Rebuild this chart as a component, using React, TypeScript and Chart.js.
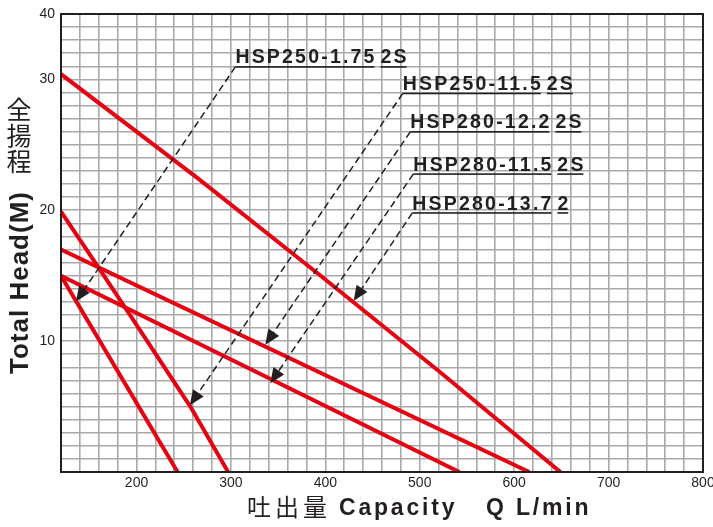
import React, { useEffect, useRef } from 'react';
import { Chart, registerables } from 'chart.js';

Chart.register(...registerables);

// ---- data (Q in L/min, H in m) ----
const seriesNames = ['HSP250-1.75 2S', 'HSP250-11.5 2S', 'HSP280-12.2 2S', 'HSP280-11.5 2S', 'HSP280-13.7 2'];

const flow1 = [120, 243.5];
const head1 = [15, 0];

const flow2 = [120, 160, 193, 257, 297];
const head2 = [19.9, 15.6, 12.0, 5.0, 0];

const flow3 = [120, 616];
const head3 = [17, 0];

const flow4 = [120, 542];
const head4 = [15, 0];

const flow5 = [120, 264, 395, 522, 649];
const head5 = [30.4, 22.5, 15.0, 7.6, 0];

const xTickValues = [200, 300, 400, 500, 600, 700, 800];
const yTickValues = [10, 20, 30, 35];
const yTickTexts = ['10', '20', '30', '40'];

// annotation labels: model text, suffix, label anchor (Q,H), arrow tip (Q,H)
const labelModels = ['HSP250-1.75', 'HSP250-11.5', 'HSP280-12.2', 'HSP280-11.5', 'HSP280-13.7'];
const labelSuffixes = ['2S', '2S', '2S', '2S', '2'];
const labelAnchorQ = [304.7, 482.0, 490.0, 493.2, 492.1];
const labelAnchorH = [30.96, 28.93, 26.0, 22.77, 19.8];
const arrowTipQ = [135.9, 256.5, 336.4, 341.7, 430];
const arrowTipH = [13.02, 5.1, 9.73, 6.79, 13.08];

const flows = [flow1, flow2, flow3, flow4, flow5];
const heads = [head1, head2, head3, head4, head5];

const INK = '#231f20';
const RED = '#e50012';
const LATIN = '"Liberation Sans", Arial, Helvetica, sans-serif';
const CJK = '"Noto Sans CJK JP", "Noto Sans CJK SC", sans-serif';

const overlayPlugin = {
  id: 'overlay',
  afterDatasetsDraw(chart: any) {
    const { ctx, chartArea: a, scales } = chart;
    const x = scales.x;
    const y = scales.y;
    ctx.save();
    // frame
    ctx.strokeStyle = INK;
    ctx.lineWidth = 2;
    ctx.strokeRect(a.left, a.top, a.right - a.left, a.bottom - a.top);

    // annotations
    ctx.fillStyle = INK;
    ctx.strokeStyle = INK;
    for (let i = 0; i < labelModels.length; i++) {
      const ax = x.getPixelForValue(labelAnchorQ[i]);
      const ay = y.getPixelForValue(labelAnchorH[i]);
      const tx = x.getPixelForValue(arrowTipQ[i]);
      const ty = y.getPixelForValue(arrowTipH[i]);
      const dx = tx - ax;
      const dy = ty - ay;
      const len = Math.hypot(dx, dy);
      const ux = dx / len;
      const uy = dy / len;
      const AL = 15;
      const AW = 6.5;
      const bx = tx - ux * AL;
      const by = ty - uy * AL;
      ctx.setLineDash([7, 4]);
      ctx.lineWidth = 1.5;
      ctx.beginPath();
      ctx.moveTo(ax, ay);
      ctx.lineTo(bx + ux * 2, by + uy * 2);
      ctx.stroke();
      ctx.setLineDash([]);
      ctx.beginPath();
      ctx.moveTo(tx, ty);
      ctx.lineTo(bx - uy * AW, by + ux * AW);
      ctx.lineTo(bx + uy * AW, by - ux * AW);
      ctx.closePath();
      ctx.fill();

      const ls = 2.2;
      ctx.font = `bold 19.5px ${LATIN}`;
      (ctx as any).letterSpacing = `${ls}px`;
      ctx.textAlign = 'left';
      ctx.textBaseline = 'alphabetic';
      ctx.fillText(labelModels[i], ax, ay - 3.4);
      const w1 = ctx.measureText(labelModels[i]).width - ls;
      ctx.fillRect(ax, ay - 0.75, w1, 1.6);
      const sx = ax + w1 + 6;
      ctx.fillText(labelSuffixes[i], sx, ay - 3.4);
      const w2 = ctx.measureText(labelSuffixes[i]).width - ls;
      ctx.fillRect(sx, ay - 0.75, w2, 1.6);
      (ctx as any).letterSpacing = '0px';
    }

    // y-axis title
    ctx.fillStyle = INK;
    ctx.font = `25px ${CJK}`;
    ctx.textAlign = 'center';
    ctx.textBaseline = 'middle';
    const yChars = ['全', '揚', '程'];
    yChars.forEach((c, k) => ctx.fillText(c, 19, 109 + k * 26));

    ctx.save();
    ctx.translate(28, 374);
    ctx.rotate(-Math.PI / 2);
    ctx.font = `bold 26px ${LATIN}`;
    (ctx as any).letterSpacing = '1px';
    ctx.textAlign = 'left';
    ctx.textBaseline = 'alphabetic';
    ctx.fillText('Total Head(M)', 0, 0);
    (ctx as any).letterSpacing = '0px';
    ctx.restore();

    // x-axis title
    ctx.font = `24px ${CJK}`;
    (ctx as any).letterSpacing = '4px';
    ctx.textAlign = 'left';
    ctx.textBaseline = 'middle';
    ctx.fillText('吐出量', 247, 507);
    ctx.font = `bold 23px ${LATIN}`;
    (ctx as any).letterSpacing = '2.8px';
    ctx.textBaseline = 'alphabetic';
    ctx.fillText('Capacity', 339, 515);
    ctx.fillText('Q', 486, 515);
    ctx.fillText('L/min', 516, 515);
    (ctx as any).letterSpacing = '0px';
    ctx.restore();
  },
};

export default function App() {
  const canvasRef = useRef<HTMLCanvasElement | null>(null);

  useEffect(() => {
    const canvas = canvasRef.current;
    if (!canvas) return;
    const datasets = flows.map((f, i) => ({
      label: seriesNames[i],
      data: f.map((q, j) => ({ x: q, y: heads[i][j] })),
      borderColor: RED,
      backgroundColor: RED,
      borderWidth: 4,
      pointRadius: 0,
      tension: 0,
      fill: false,
    }));

    const chart = new Chart(canvas, {
      type: 'line',
      data: { datasets },
      options: {
        responsive: false,
        animation: false,
        devicePixelRatio: 1,
        layout: { padding: { top: 14, right: 10, left: 0, bottom: 0 } },
        plugins: {
          legend: { display: false },
          tooltip: { enabled: false },
          title: { display: false },
        },
        scales: {
          x: {
            type: 'linear',
            min: 120,
            max: 800,
            border: { display: false },
            grid: { color: '#a9a9a9', lineWidth: 1.6, drawTicks: false },
            ticks: {
              stepSize: 20,
              autoSkip: false,
              maxRotation: 0,
              padding: 3,
              color: INK,
              font: { family: LATIN, size: 14 },
              callback: (v: any) => (xTickValues.includes(Number(v)) ? String(v) : ''),
            },
            afterFit: (s: any) => {
              s.height = 55;
              s.paddingLeft = 0;
              s.paddingRight = 0;
            },
          },
          y: {
            type: 'linear',
            min: 0,
            max: 35,
            border: { display: false },
            grid: { color: '#a9a9a9', lineWidth: 1.6, drawTicks: false },
            ticks: {
              stepSize: 1,
              autoSkip: false,
              padding: 6,
              color: INK,
              font: { family: LATIN, size: 14 },
              callback: (v: any) => {
                const k = yTickValues.indexOf(Number(v));
                return k >= 0 ? yTickTexts[k] : '';
              },
            },
            afterFit: (s: any) => {
              s.width = 61;
              s.paddingTop = 0;
              s.paddingBottom = 0;
            },
          },
        },
      },
      plugins: [overlayPlugin],
    } as any);

    return () => chart.destroy();
  }, []);

  return (
    <div style={{ position: 'absolute', left: 0, top: 0, width: 713, height: 527, background: '#fff' }}>
      <canvas ref={canvasRef} width={713} height={527} style={{ display: 'block' }} />
    </div>
  );
}
